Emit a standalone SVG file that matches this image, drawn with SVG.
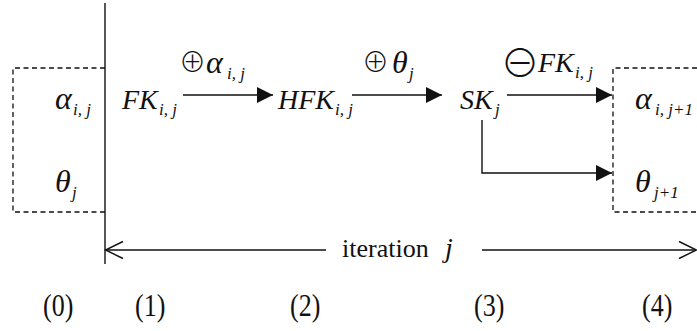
<svg xmlns="http://www.w3.org/2000/svg" width="697" height="331" viewBox="0 0 697 331">
<defs>
<style>
.m{font-family:"Liberation Serif","Times New Roman",serif;font-style:italic;font-size:28px;fill:#111}
.g{font-family:"Liberation Serif","Times New Roman",serif;font-style:italic;font-size:32px;fill:#111}
.s{font-family:"Liberation Serif","Times New Roman",serif;font-style:italic;font-size:17px;fill:#111}
.r{font-family:"Liberation Serif","Times New Roman",serif;font-size:26px;fill:#111}
.o{font-family:"Noto Sans CJK JP","DejaVu Sans",sans-serif;font-weight:300;font-size:27px;fill:#111}
.om{font-family:"Noto Sans CJK JP","DejaVu Sans",sans-serif;font-weight:300;font-size:39px;fill:#111}
.ln{stroke:#111;stroke-width:1.4;fill:none}
.d{stroke:#111;stroke-width:1.3;fill:none;stroke-dasharray:5 3.5}
</style>
<marker id="ah" viewBox="0 0 16 16" refX="16" refY="8" markerWidth="16" markerHeight="16" markerUnits="userSpaceOnUse" orient="auto">
<path d="M0,0 L16,8 L0,16 Z" fill="#111"/>
</marker>
</defs>
<rect width="697" height="331" fill="#fff"/>
<g id="boundary">
<line class="ln" x1="105" y1="3" x2="105" y2="264"/>
</g>
<g id="state0">
<path class="d" d="M105,68 H13 V212 H105"/>
<text class="g" x="55" y="109">α</text><text class="s" x="73" y="115">i, j</text>
<text class="g" x="55" y="192">θ</text><text class="s" x="72" y="198">j</text>
</g>
<g id="fk">
<text class="m" x="122" y="109">FK</text><text class="s" x="159" y="115">i, j</text>
</g>
<g id="hfk">
<text class="m" x="278" y="109">HFK</text><text class="s" x="335" y="115">i, j</text>
</g>
<g id="sk">
<text class="m" x="460" y="109">SK</text><text class="s" x="495" y="115">j</text>
</g>
<g id="state4">
<path class="d" d="M697,68 H613 V212 H697"/>
<text class="g" x="635" y="109">α</text><text class="s" x="655" y="115">i, j+1</text>
<text class="g" x="635" y="192">θ</text><text class="s" x="654" y="198">j+1</text>
</g>
<g id="connectors">
<line class="ln" x1="183" y1="95" x2="273" y2="95" marker-end="url(#ah)"/>
<line class="ln" x1="352" y1="95" x2="442" y2="95" marker-end="url(#ah)"/>
<line class="ln" x1="507" y1="95" x2="612" y2="95" marker-end="url(#ah)"/>
<path class="ln" d="M482,120 V173 H612" marker-end="url(#ah)"/>
<line class="ln" x1="106" y1="250" x2="326" y2="250"/>
<path class="ln" d="M123,241.5 L105.5,250 L123,258.5"/>
<line class="ln" x1="482" y1="250" x2="696" y2="250"/>
<path class="ln" d="M679,241.5 L696.5,250 L679,258.5"/>
</g>
<g id="labels">
<text class="o" x="179" y="72">⊕</text><text class="g" x="206" y="73">α</text><text class="s" x="227" y="79">i, j</text>
<text class="o" x="362" y="72">⊕</text><text class="g" x="392" y="73">θ</text><text class="s" x="409" y="79">j</text>
<text class="om" x="500.5" y="77">⊖</text>
<text class="m" x="538" y="72">FK</text><text class="s" x="575" y="78">i, j</text>
<text class="r" x="342" y="257">iteration</text><text class="m" x="445" y="257">j</text>
<text class="r" transform="translate(43,316) scale(1,1.25)">(0)</text>
<text class="r" transform="translate(135,316) scale(1,1.25)">(1)</text>
<text class="r" transform="translate(290,316) scale(1,1.25)">(2)</text>
<text class="r" transform="translate(474,316) scale(1,1.25)">(3)</text>
<text class="r" transform="translate(642,316) scale(1,1.25)">(4)</text>
</g>
</svg>
